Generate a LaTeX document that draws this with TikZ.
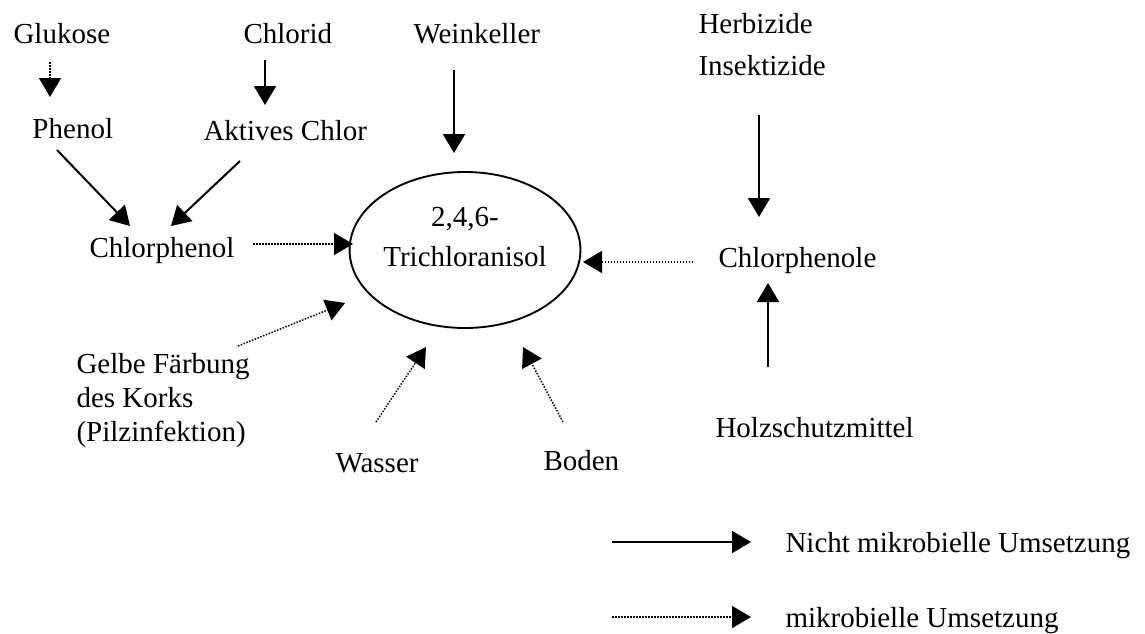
\documentclass[tikz,border=0pt]{standalone}
\usepackage{fontspec}
\setmainfont{Liberation Serif}
\usetikzlibrary{arrows.meta,shapes.geometric,calc}
\begin{document}
\begin{tikzpicture}[x=0.4pt,y=-0.4pt,
  lbl/.style={inner sep=0pt,anchor=base west,font=\fontsize{11.6pt}{13.6pt}\selectfont},
  tip/.style={-{Triangle[length=7.6pt,width=8.8pt]}},
  nonmicro/.style={tip,line width=0.8pt},
  micro/.style={tip,line width=0.6pt,dash pattern=on 0.6pt off 0.6pt}]
\useasboundingbox (0,0) rectangle (1145,633);
% nodes
\node[lbl] (glukose) at (13,43) {Glukose};
\node[lbl] (chlorid) at (243,43) {Chlorid};
\node[lbl] (weinkeller) at (413,43) {Weinkeller};
\node[lbl,align=left] (herbizide) at (698,75) {Herbizide\\[3.2pt]Insektizide};
\node[lbl] (phenol) at (32,138) {Phenol};
\node[lbl] (aktiv) at (203,140) {Aktives Chlor};
\node[lbl] (chlorphenol) at (89,257) {Chlorphenol};
\node[lbl] (chlorphenole) at (718,267) {Chlorphenole};
\node[lbl,align=left] (gelbe) at (76,441) {Gelbe Färbung\\des Korks\\(Pilzinfektion)};
\node[lbl] (wasser) at (335,472) {Wasser};
\node[lbl] (boden) at (543,470) {Boden};
\node[lbl] (holz) at (715,437) {Holzschutzmittel};
\node[ellipse,draw,line width=0.75pt,inner sep=0pt,minimum width=78.8pt,minimum height=62.4pt,
  align=center,font=\fontsize{11.6pt}{13.6pt}\selectfont] (tca) at (465,250)
  {2,4,6-\\[2.4pt]Trichloranisol\rule[-10.4pt]{0pt}{0pt}};
\node[lbl] (leg1) at (785,552) {Nicht mikrobielle Umsetzung};
\node[lbl] (leg2) at (785,627) {mikrobielle Umsetzung};
\coordinate (l1s) at (612,542);
\coordinate (l1e) at (751,542);
\coordinate (l2s) at (612,617);
\coordinate (l2e) at (751,617);
% connectors
\draw[micro] ($(glukose.base west)+(37,19)$) -- ($(phenol.base west)+(18,-41)$);
\draw[nonmicro] ($(chlorid.base west)+(22,17)$) -- ($(aktiv.base west)+(62,-35)$);
\draw[nonmicro] ($(weinkeller.base west)+(41,27)$) -- ($(tca.center)+(-11,-97)$);
\draw[nonmicro] ($(herbizide.base west)+(61,40)$) -- ($(chlorphenole.base west)+(41,-50)$);
\draw[nonmicro] ($(holz.base west)+(53,-70)$) -- ($(chlorphenole.base west)+(50,16)$);
\draw[nonmicro] ($(phenol.base west)+(25,12)$) -- ($(chlorphenol.base west)+(41,-31)$);
\draw[nonmicro] ($(aktiv.base west)+(37,21)$) -- ($(chlorphenol.base west)+(82,-31)$);
\draw[micro] ($(chlorphenol.base west)+(164,-13)$) -- ($(tca.center)+(-112,-6)$);
\draw[micro] ($(chlorphenole.base west)+(-25,-5)$) -- ($(tca.center)+(118,12)$);
\draw[micro] ($(gelbe.base west)+(162,-95)$) -- ($(tca.center)+(-120,53)$);
\draw[micro] ($(wasser.base west)+(41,-50)$) -- ($(tca.center)+(-39,97)$);
\draw[micro] ($(boden.base west)+(20,-48)$) -- ($(tca.center)+(58,97)$);
\draw[nonmicro] (l1s) -- (l1e);
\draw[micro] (l2s) -- (l2e);
\end{tikzpicture}
\end{document}
